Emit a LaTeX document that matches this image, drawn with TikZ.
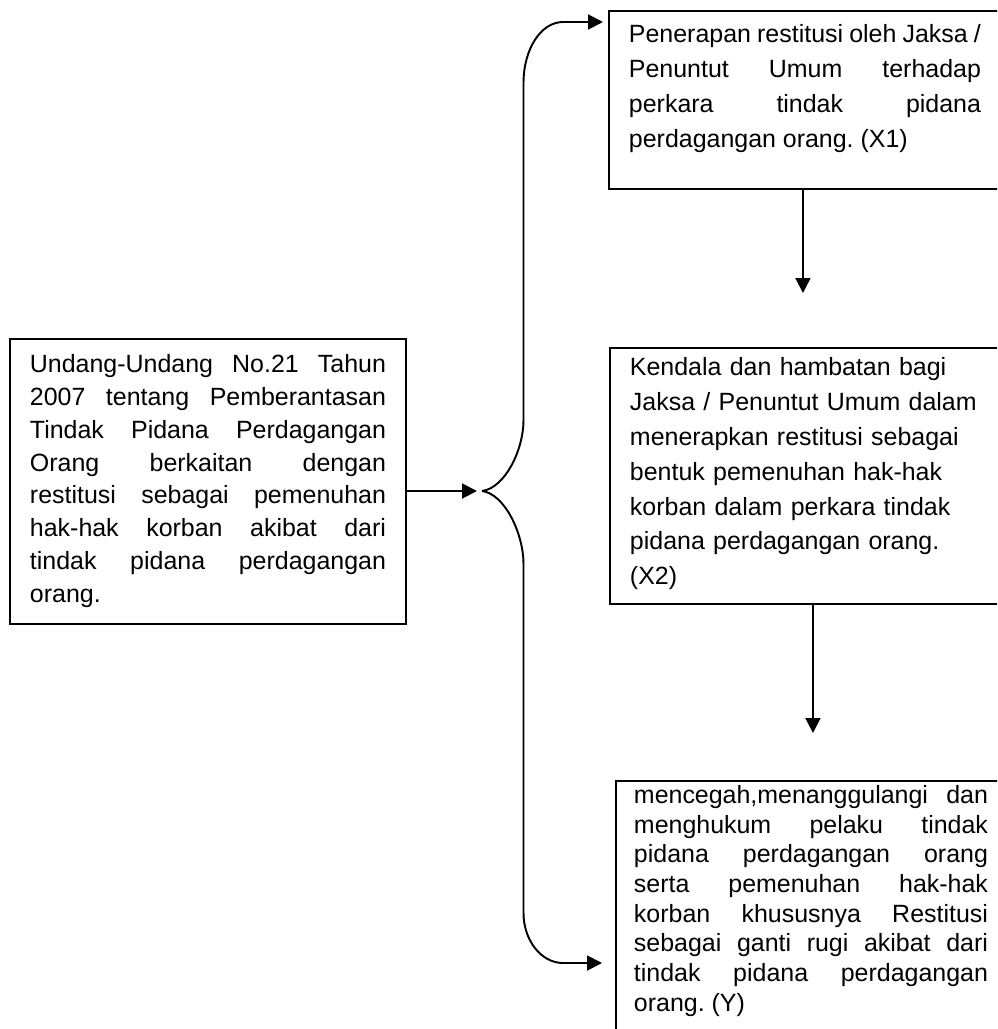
\documentclass[tikz,border=0pt]{standalone}
\usepackage{fontspec}
\setmainfont{Liberation Sans}
\usetikzlibrary{arrows.meta}
\frenchspacing
\hyphenpenalty=10000
\exhyphenpenalty=10000
\tolerance=10000
\tikzset{
    kotak/.style={draw,anchor=north west,inner xsep=0.4cm,inner ysep=0pt},
    >={Triangle[length=0.3cm,width=0.3cm]}
}
\begin{document}
\begin{tikzpicture}[line width=1.1pt]
        \useasboundingbox (0,0) rectangle (19.94,-20.58);
        \clip (0,0) rectangle (19.94,-20.58);

        % kotak kiri (undang-undang)
        \node(uu)[kotak,text width=7.12cm,align=justify,text height=0.67cm,text depth=5.03cm,
            font=\fontsize{14.2}{18.7}\selectfont] at (0.18,-6.76)
            {Undang-Undang No.21 Tahun\linebreak
             2007 tentang Pemberantasan\linebreak
             Tindak Pidana Perdagangan\linebreak
             Orang berkaitan dengan\linebreak
             restitusi sebagai pemenuhan\linebreak
             hak-hak korban akibat dari\linebreak
             tindak pidana perdagangan\linebreak
             orang.};

        % kotak kanan
        \node(x1)[kotak,text width=7.04cm,align=justify,text height=0.63cm,text depth=2.93cm,
            font=\fontsize{14.2}{19.9}\selectfont] at (12.16,-0.20)
            {Penerapan restitusi oleh Jaksa /\linebreak
             Penuntut Umum terhadap\linebreak
             perkara tindak pidana\linebreak
             perdagangan orang. (X1)};
        \node(x2)[kotak,text width=7.04cm,align=left,text height=0.56cm,text depth=4.56cm,
            font=\fontsize{14.2}{19.8}\selectfont] at (12.18,-6.94)
            {Kendala dan hambatan bagi\\
             Jaksa / Penuntut Umum dalam\\
             menerapkan restitusi sebagai\\
             bentuk pemenuhan hak-hak\\
             korban dalam perkara tindak\\
             pidana perdagangan orang.\\
             (X2)};
        \node(y)[kotak,text width=7.08cm,inner xsep=0.36cm,align=justify,text height=0.45cm,text depth=5.2cm,
            font=\fontsize{14.2}{16.9}\selectfont] at (12.30,-15.60)
            {mencegah,menanggulangi dan\linebreak
             menghukum pelaku tindak\linebreak
             pidana perdagangan orang\linebreak
             serta pemenuhan hak-hak\linebreak
             korban khususnya Restitusi\linebreak
             sebagai ganti rugi akibat dari\linebreak
             tindak pidana perdagangan\linebreak
             orang. (Y)};

        % kurung kurawal
        \coordinate (cusp) at (9.64,-9.82);
        \coordinate (atas) at (11.26,-0.44);
        \coordinate (bawah) at (11.26,-19.26);
        \draw (cusp) .. controls (10.10,-9.76) and (10.47,-9.00) .. (10.47,-8.40)
            -- (10.47,-1.66) .. controls (10.47,-0.98) and (10.82,-0.44) .. (atas);
        \draw (cusp) .. controls (10.10,-9.88) and (10.47,-10.68) .. (10.47,-11.28)
            -- (10.47,-18.26) .. controls (10.47,-18.80) and (10.82,-19.26) .. (bawah);

        % panah
        \draw[->] (uu.east |- cusp) -- ([xshift=-0.1cm]cusp);
        \draw[->,shorten >=0.1cm] (atas) -- (atas -| x1.west);
        \draw[->,shorten >=0.26cm] (bawah) -- (bawah -| y.west);
        \draw[->,shorten >=1.08cm] ([xshift=-0.04cm]x1.south) -- ([xshift=-0.04cm]x1.south |- x2.north);
        \draw[->,shorten >=0.94cm] ([xshift=0.14cm]x2.south) -- ([xshift=0.14cm]x2.south |- y.north);
\end{tikzpicture}
\end{document}
